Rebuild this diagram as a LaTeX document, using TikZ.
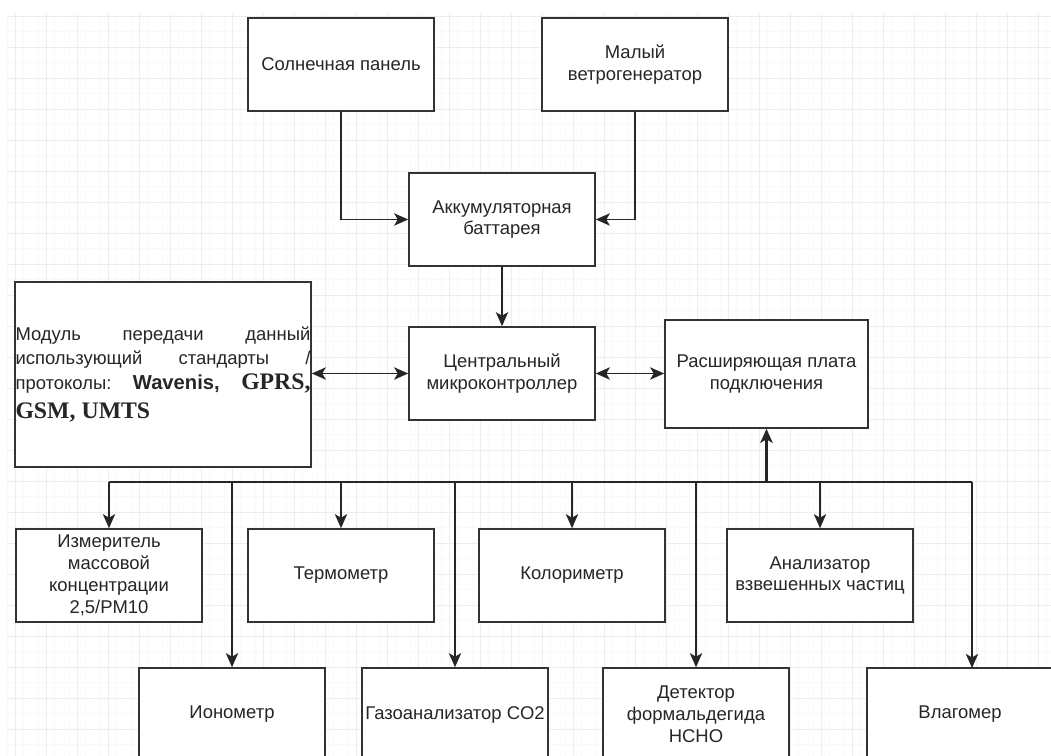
\documentclass[tikz,border=0pt]{standalone}
\usepackage{fontspec}
\setmainfont{Liberation Sans}
\newfontfamily\tnrfont{Liberation Serif}
\usetikzlibrary{arrows.meta}
\newcommand{\boxfont}{\fontsize{10.5}{12.4}\selectfont}
\newcommand{\modfont}{\fontsize{10.5}{13.6}\selectfont}
\newcommand{\wavfont}{\fontsize{11.5}{13.6}\selectfont\bfseries}
\newcommand{\gsmfont}{\fontsize{13.5}{15}\selectfont\tnrfont\bfseries}

\begin{document}
\begin{tikzpicture}[x=0.02cm, y=-0.02cm,
    gridfine/.style={draw=gray!5, line width=0.3pt},
    gridmaj/.style={draw=gray!14, line width=0.4pt},
    blk/.style={draw=black!80, line width=0.9pt, fill=white, text=black!85,
      minimum width=3.72cm, minimum height=1.86cm, align=center,
      font=\boxfont, inner sep=1pt},
    wire/.style={draw=black!85, line width=0.9pt},
    arr/.style={wire, -{Stealth[length=8pt,width=7pt,inset=2pt]}},
    darr/.style={wire, {Stealth[length=8pt,width=7pt,inset=2pt]}-{Stealth[length=8pt,width=7pt,inset=2pt]}}]
  \useasboundingbox (0,0) rectangle (1051,756);
  \clip (0,0) rectangle (1051,756);

  % background grid
  \foreach \gx in {7.5,23,...,1051} \draw[gridfine] (\gx,14) -- (\gx,756);
  \foreach \gy in {16,31.5,...,756} \draw[gridfine] (7,\gy) -- (1051,\gy);
  \foreach \gx in {15,46,...,1051} \draw[gridmaj] (\gx,14) -- (\gx,756);
  \foreach \gy in {16,47,...,756} \draw[gridmaj] (7,\gy) -- (1051,\gy);

  % power
  \node[blk] (solar) at (341,64.5) {Солнечная панель};
  \node[blk] (wind)  at (635,64.5) {Малый\\ветрогенератор};
  \node[blk] (batt)  at (502,219.5) {Аккумуляторная\\баттарея};

  % core
  \node[blk] (cpu) at (502,373.5) {Центральный\\микроконтроллер};
  \node[blk, minimum width=4.06cm, minimum height=2.16cm] (board) at (766.5,374)
    {Расширяющая плата\\подключения};
  \node[blk, minimum width=5.92cm, minimum height=3.7cm, text width=5.9cm,
        align=left, inner sep=0pt, font=\modfont] (modem) at (163,374.5)
    {\noindent\makebox[5.9cm][l]{Модуль\hfill передачи\hfill данный}\\
     \makebox[5.9cm][l]{использующий\hfill стандарты\hfill /}\\[1pt]
     \makebox[5.9cm][l]{протоколы:\hfill{\wavfont Wavenis,}\hfill{\gsmfont GPRS,}}\\[3pt]
     {\gsmfont GSM, UMTS}};

  % sensors, upper row
  \node[blk] (meter)  at (109,575.5) {Измеритель\\массовой\\концентрации\\2,5/PM10};
  \node[blk] (thermo) at (341,575.5) {Термометр};
  \node[blk] (color)  at (572,575.5) {Колориметр};
  \node[blk] (dust)   at (820,575.5) {Анализатор\\взвешенных частиц};

  % sensors, lower row
  \node[blk] (iono)   at (232,714.5) {Ионометр};
  \node[blk] (gas)    at (455,714.5) {Газоанализатор CO2};
  \node[blk] (formal) at (696,714.5) {Детектор\\формальдегида\\HCHO};
  \node[blk] (hygro)  at (960,714.5) {Влагомер};

  % connectors
  \draw[arr] (solar.south) |- (batt.west);
  \draw[arr] (wind.south) |- (batt.east);
  \draw[arr] (batt) -- (cpu);
  \draw[darr] (modem.east |- cpu.west) -- (cpu.west);
  \draw[darr] (cpu.east) -- (cpu.east -| board.west);

  \coordinate (bus) at (0,482);
  \coordinate (hygroin) at (972,668);
  \draw[wire] (meter.north |- bus) -- (hygroin |- bus);
  \draw[wire, line width=1.6pt, -{Stealth[length=8pt,width=7pt,inset=2pt]}]
    (board.south |- bus) -- (board.south);
  \foreach \n in {meter,thermo,color,dust,iono,gas,formal}
    \draw[arr] (\n.north |- bus) -- (\n.north);
  \draw[arr] (hygroin |- bus) -- (hygroin);
\end{tikzpicture}
\end{document}
